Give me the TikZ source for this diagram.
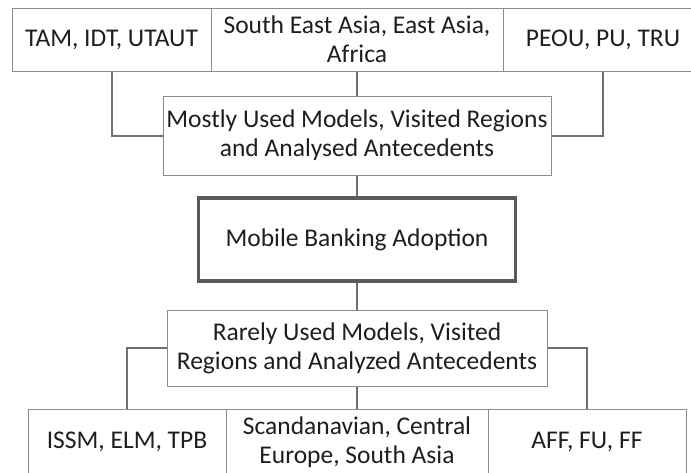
\documentclass[tikz,border=0pt]{standalone}
\usepackage{fontspec}
\setmainfont{Carlito}
\definecolor{boxgray}{HTML}{8C8C8C}
\definecolor{linkgray}{HTML}{6F6F6F}
\definecolor{maingray}{HTML}{5A5A5A}
\definecolor{txtgray}{HTML}{1E1E1E}
\begin{document}
\begin{tikzpicture}[x=1pt, y=-1pt,
        box/.style={draw=boxgray, line width=1pt, align=center, inner sep=0pt,
            text=txtgray, font=\fontsize{25.5}{29}\selectfont},
        link/.style={draw=linkgray, line width=2pt}]
        \useasboundingbox (0,0) rectangle (691,472);
        \clip (0,0) rectangle (691,472);
        % top row
        \node[box, minimum width=199pt, minimum height=63pt] (tam) at (111.5,39.5) {TAM, IDT, UTAUT};
        \node[box, minimum width=292pt, minimum height=63pt] (asia) at (357,39.5) {South East Asia, East Asia,\\Africa};
        \node[box, minimum width=200pt, minimum height=63pt] (peou) at (603,39.5) {PEOU, PU, TRU};
        % middle
        \node[box, minimum width=388pt, minimum height=79pt] (mostly) at (357,135.5) {Mostly Used Models, Visited Regions\\and Analysed Antecedents};
        \node[box, draw=maingray, line width=3.5pt, minimum width=317pt, minimum height=83pt] (mba) at (357,239.5) {Mobile Banking Adoption};
        \node[box, minimum width=380pt, minimum height=76pt] (rarely) at (357,348) {Rarely Used Models, Visited\\Regions and Analyzed Antecedents};
        % bottom row
        \node[box, minimum width=198pt, minimum height=66pt] (issm) at (127,442) {ISSM, ELM, TPB};
        \node[box, minimum width=262pt, minimum height=66pt] (scand) at (357,442) {Scandanavian, Central\\Europe, South Asia};
        \node[box, minimum width=198pt, minimum height=66pt] (aff) at (587,442) {AFF, FU, FF};
        % links
        \draw[link] (tam.south) |- (mostly.west);
        \draw[link] (peou.south) |- (mostly.east);
        \draw[link] (asia.south) -- (mostly.north);
        \draw[link] (mostly.south) -- (mba.north);
        \draw[link] (mba.south) -- (rarely.north);
        \draw[link] (rarely.west) -| (issm.north);
        \draw[link] (rarely.east) -| (aff.north);
        \draw[link] (rarely.south) -- (scand.north);
    \end{tikzpicture}
\end{document}
